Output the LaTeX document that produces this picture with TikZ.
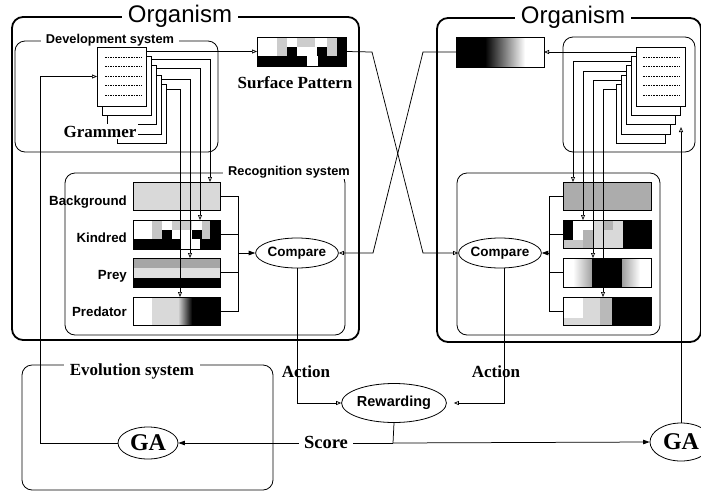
\documentclass[tikz,border=0pt]{standalone}
\usepackage{fontspec}
\setmainfont{Liberation Serif}
\newfontfamily\hv{Liberation Sans}
\usetikzlibrary{shapes.geometric,arrows.meta,calc}
\begin{document}
\begin{tikzpicture}[x=1pt,y=-1pt,
  orgbox/.style={draw, line width=1.8pt, rounded corners=11pt, inner sep=0, outer sep=0, anchor=north west},
  sysbox/.style={draw, line width=0.8pt, rounded corners=10pt, inner sep=0, outer sep=0, anchor=north west},
  patbox/.style={draw, line width=0.9pt, inner sep=0, outer sep=0, anchor=north west},
  page/.style={draw, fill=white, line width=0.8pt, inner sep=0, outer sep=0, anchor=north west, minimum width=49pt, minimum height=59pt},
  conn/.style={line width=0.75pt},
  oarr/.style={-{Triangle[open,length=5pt,width=4pt,line width=0.7pt]}},
  farr/.style={-{Triangle[length=6.5pt,width=4.5pt]}},
  dline/.style={line width=0.6pt, dash pattern=on 1.6pt off 1pt},
  ttlorg/.style={font=\hv\fontsize{24}{24}\selectfont, fill=white, inner xsep=6pt, inner ysep=1pt, anchor=base},
  ttlsys/.style={font=\hv\bfseries\fontsize{12.8}{13}\selectfont, fill=white, inner xsep=5pt, inner ysep=1pt, anchor=base},
  serlbl/.style={font=\fontsize{17}{17}\selectfont\bfseries, inner xsep=6pt, inner ysep=1pt, anchor=base},
  boxlbl/.style={font=\hv\bfseries\fontsize{13.3}{14}\selectfont, inner sep=0, anchor=base east},
  ell/.style={draw, ellipse, line width=0.8pt, inner sep=0, fill=white}
]
\useasboundingbox (0,0) rectangle (701,493);

% ---------- big frames ----------
\node[orgbox, minimum width=347pt, minimum height=323pt] (orgL) at (12,17) {};
\node[orgbox, minimum width=264pt, minimum height=324pt] (orgR) at (437,18) {};
\node[sysbox, minimum width=203pt, minimum height=111pt] (devL) at (15,41) {};
\node[sysbox, minimum width=132pt, minimum height=115pt] (devR) at (563,37) {};
\node[sysbox, minimum width=280pt, minimum height=162pt] (recL) at (65,173) {};
\node[sysbox, minimum width=203pt, minimum height=162pt] (recR) at (457,173) {};
\node[sysbox, minimum width=251pt, minimum height=125pt] (evo) at (22,365) {};

\node[ttlorg] (tOrgL) at (180,22) {Organism};
\node[ttlorg] (tOrgR) at (573,23) {Organism};
\node[ttlsys] (tDev) at (110,43) {Development system};
\node[ttlsys] (tRec) at (289,175) {Recognition system};
\node[serlbl, fill=white] (tEvo) at (132,375) {Evolution system};

% ---------- surface patterns ----------
% left
\fill[gray!40] (277,37) rectangle (287,56);
\fill[black] (287,47) rectangle (297,56);
\fill[gray!40] (297,37) rectangle (315,47);
\fill[black] (317,47) rectangle (327,56);
\fill[gray!40] (327,37) rectangle (337,56);
\fill[black] (337,37) rectangle (346,66);
\fill[black] (257,56) rectangle (307,66);
\fill[black] (318,56) rectangle (346,66);
\node[patbox, minimum width=89pt, minimum height=29pt] (spL) at (257,37) {};
% right
\fill[black] (456,37) rectangle (485,67);
\shade[left color=black, right color=white] (485,37) rectangle (525,67);
\node[patbox, minimum width=88pt, minimum height=30pt] (spR) at (456,37) {};

\node[serlbl] (lSP) at (295,88) {Surface Pattern};

% ---------- left recognition boxes ----------
\fill[gray!30] (133,182) rectangle (220,210);
\node[patbox, minimum width=87pt, minimum height=28pt] (bgL) at (133,182) {};

\fill[black] (133,239) rectangle (220,249);
\fill[white] (180,230) rectangle (200,249);
\fill[gray!45] (152,220) rectangle (162,239);
\fill[black] (162,230) rectangle (172,239);
\fill[gray!40] (172,220) rectangle (192,230);
\fill[black] (192,230) rectangle (202,239);
\fill[gray!45] (202,220) rectangle (210,239);
\fill[black] (210,220) rectangle (220,249);
\node[patbox, minimum width=87pt, minimum height=29pt] (kinL) at (133,220) {};

\fill[gray!70] (133,258) rectangle (220,268);
\fill[gray!25] (133,268) rectangle (220,278);
\fill[black] (133,278) rectangle (220,287);
\node[patbox, minimum width=87pt, minimum height=29pt] (preyL) at (133,258) {};

\fill[gray!30] (152,297) rectangle (178,325);
\shade[left color=gray!30, right color=black] (178,297) rectangle (192,325);
\fill[black] (192,297) rectangle (220,325);
\node[patbox, minimum width=87pt, minimum height=28pt] (predL) at (133,297) {};

\node[boxlbl] (lBg) at (127,205) {Background};
\node[boxlbl] (lKin) at (127,242) {Kindred};
\node[boxlbl] (lPrey) at (127,279) {Prey};
\node[boxlbl] (lPred) at (127,316) {Predator};

% ---------- right recognition boxes ----------
\fill[gray!65] (563,182) rectangle (651,210);
\node[patbox, minimum width=88pt, minimum height=28pt] (bgR) at (563,182) {};

\fill[black] (563,220) rectangle (573,240);
\fill[gray!45] (563,240) rectangle (593,248);
\fill[gray!60] (583,230) rectangle (593,248);
\fill[gray!30] (593,220) rectangle (623,248);
\fill[gray!60] (603,220) rectangle (613,230);
\fill[black] (623,220) rectangle (651,248);
\node[patbox, minimum width=88pt, minimum height=28pt] (kinR) at (563,220) {};

\shade[left color=white, right color=gray!75] (573,258) rectangle (592,287);
\fill[black] (592,258) rectangle (622,287);
\shade[left color=gray!75, right color=white] (622,258) rectangle (640,287);
\node[patbox, minimum width=88pt, minimum height=29pt] (preyR) at (563,258) {};

\fill[gray!30] (583,297) rectangle (600,325);
\fill[gray!55] (600,297) rectangle (612,325);
\fill[black] (612,297) rectangle (651,325);
\fill[gray!30] (563,318) rectangle (583,325);
\node[patbox, minimum width=88pt, minimum height=28pt] (predR) at (563,297) {};

% ---------- grammar stacks ----------
\node[page] (pgL4) at (117,84.2) {};
\node[page] (pgL3) at (112,74.9) {};
\node[page] (pgL2) at (107,65.6) {};
\node[page] (pgL1) at (102,56.3) {};
\node[page] (pgL0) at (97,47) {};
\foreach \yy in {57,66.5,76,85.5,95} \draw[dline] (105,\yy) -- (142,\yy);

\node[page] (pgR4) at (616,84.2) {};
\node[page] (pgR3) at (621,74.9) {};
\node[page] (pgR2) at (626,65.6) {};
\node[page] (pgR1) at (631,56.3) {};
\node[page] (pgR0) at (636,47) {};
\foreach \yy in {57,66.5,76,85.5,95} \draw[dline] (643,\yy) -- (680,\yy);

\node[serlbl, fill=white, inner xsep=2pt, inner ysep=2pt] (gram) at (100,137) {Grammer};

% ---------- compare / rewarding / GA ----------
\node[ell, minimum width=70pt, minimum height=30pt, font=\hv\bfseries\fontsize{13.5}{14}\selectfont] (cmpL) at (297,253) {Compare};
\node[ell, minimum width=68pt, minimum height=30pt, font=\hv\bfseries\fontsize{13.5}{14}\selectfont] (cmpR) at (500,253) {Compare};
\node[ell, minimum width=88pt, minimum height=39pt, font=\hv\bfseries\fontsize{14.5}{15}\selectfont] (rew) at (394,403) {Rewarding};
\node[ell, minimum width=60pt, minimum height=32pt, font=\fontsize{24}{24}\selectfont\bfseries] (gaL) at (148,443) {GA};
\node[ell, minimum width=62pt, minimum height=38pt, font=\fontsize{24}{24}\selectfont\bfseries] (gaR) at (681,442) {GA};

% ---------- helper coordinates ----------
\coordinate (brL) at (238,253);
\coordinate (brR) at (549,253);
\coordinate (ka) at (372,52);
\coordinate (kb) at (423,253);
\coordinate (kc) at (423,52);
\coordinate (kd) at (373,253);
\coordinate (sj) at (393,443);
\coordinate (gl) at (40,76.5);
\coordinate (gr) at (681,127);

% ---------- connectors: development -> surface / recognition ----------
\draw[conn,oarr] (pgL0.east |- spL.west) -- (spL.west);
\draw[conn,oarr] ([yshift=-3pt]pgL1.north east) -| ([xshift=77pt]bgL.north west);
\draw[conn,oarr] ([yshift=-3pt]pgL2.north east) -| ([xshift=67pt]kinL.north west);
\draw[conn,oarr] ([yshift=-4pt]pgL3.north east) -| ([xshift=57pt]preyL.north west);
\draw[conn,oarr] ([yshift=-5pt]pgL4.north east) -| ([xshift=47pt]predL.north west);

\draw[conn,oarr] (pgR0.west |- spR.east) -- (spR.east);
\draw[conn,oarr] ([yshift=-5.5pt]pgR1.north west) -| ([xshift=10pt]bgR.north west);
\draw[conn,oarr] ([yshift=-5.5pt]pgR2.north west) -| ([xshift=20pt]kinR.north west);
\draw[conn,oarr] ([yshift=-5.5pt]pgR3.north west) -| ([xshift=30pt]preyR.north west);
\draw[conn,oarr] ([yshift=-5.5pt]pgR4.north west) -| ([xshift=40pt]predR.north west);

% ---------- recognition -> compare ----------
\draw[conn] (bgL.east) -| (brL);
\draw[conn] (kinL.east) -| (brL);
\draw[conn] (preyL.east) -| (brL);
\draw[conn] (predL.east) -| (brL);
\draw[conn,farr] (brL) -- (cmpL.west);

\draw[conn] (bgR.west) -| (brR);
\draw[conn] (kinR.west) -| (brR);
\draw[conn] (preyR.west) -| (brR);
\draw[conn] (predR.west) -| (brR);
\draw[conn,farr] (brR) -- (cmpR.east);

% ---------- crossing surface patterns ----------
\draw[conn,oarr] (spL.east) -- (ka) -- (kb) -- (cmpR.west);
\draw[conn,oarr] (spR.west) -- (kc) -- (kd) -- (cmpL.east);

% ---------- actions, rewarding, score ----------
\draw[conn,oarr] (cmpL.south) |- (rew.west);
\draw[conn,oarr,shorten >=7pt] ([xshift=4pt]cmpR.south) |- (rew.east);
\node[serlbl] (actL) at (306,377) {Action};
\node[serlbl] (actR) at (496,377) {Action};

\draw[conn] (rew.south) -- (sj);
\draw[conn,farr] (sj) -- (gaL.east);
\draw[conn,farr] (sj) -- (gaR.west);
\node[serlbl, fill=white, inner xsep=5pt, font=\fontsize{18.5}{18.5}\selectfont\bfseries] (score) at (326,448) {Score};

% ---------- GA -> grammar ----------
\draw[conn,oarr] (gaL.west) -| (gl) -- (pgL0.west);
\draw[conn,oarr] (gaR.north) -- (gr);
\end{tikzpicture}
\end{document}
